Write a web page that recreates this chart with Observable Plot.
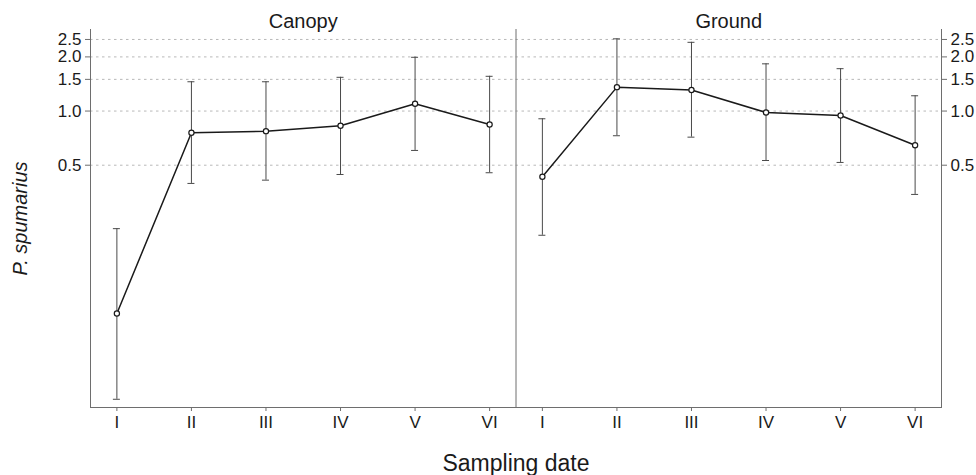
<!DOCTYPE html>
<html><head><meta charset="utf-8">
<script src="https://cdn.jsdelivr.net/npm/d3@7"></script>
<script src="https://cdn.jsdelivr.net/npm/@observablehq/plot@0.6"></script>
<style>
body{margin:0;background:#fff;}
#chart svg{font-family:"Liberation Sans",Arial,sans-serif;}
g[aria-label="y-axis label"] text{font-style:italic;font-size:20px;}
g[aria-label="fx-axis label"] text{font-size:23px;}
</style></head><body><div id="chart"></div>
<script>
const sites = ["Canopy", "Ground"];
const dates = ["I", "II", "III", "IV", "V", "VI"];
const canopyMean = [0.075, 0.757, 0.773, 0.828, 1.098, 0.842];
const canopyLow  = [0.025, 0.396, 0.413, 0.444, 0.604, 0.454];
const canopyHigh = [0.222, 1.455, 1.455, 1.54, 1.99, 1.56];
const groundMean = [0.431, 1.358, 1.31, 0.982, 0.945, 0.646];
const groundLow  = [0.204, 0.729, 0.716, 0.531, 0.518, 0.344];
const groundHigh = [0.906, 2.52, 2.41, 1.83, 1.72, 1.216];
const yTicks = [0.5, 1.0, 1.5, 2.0, 2.5];

const data = [];
sites.forEach((s, si) => {
  const m = si ? groundMean : canopyMean;
  const lo = si ? groundLow : canopyLow;
  const hi = si ? groundHigh : canopyHigh;
  dates.forEach((d, i) => data.push({site: s, date: d, mean: m[i], low: lo[i], high: hi[i]}));
});

const ink = "#1a1a1a";
const frameColor = "#6e6e6e";
const barColor = "#4a4a4a";

const plot = Plot.plot({
  width: 976, height: 475,
  marginLeft: 90, marginRight: 35, marginTop: 29, marginBottom: 68,
  style: {fontFamily: "'Liberation Sans', Arial, sans-serif", fontSize: "17px", color: ink, background: "white"},
  fx: {domain: sites, padding: 0, label: null, round: false},
  x: {type: "point", domain: dates, padding: 0.354, label: null, round: false},
  y: {type: "log", domain: [0.0225, 2.84], label: null},
  marks: [
    Plot.gridY(yTicks, {stroke: "#b8b8b8", strokeOpacity: 1, strokeDasharray: "2.5,3.5"}),
    Plot.frame({anchor: "left", stroke: frameColor}),
    Plot.frame({anchor: "bottom", stroke: frameColor}),
    Plot.frame({anchor: "right", stroke: frameColor, facetAnchor: "right"}),
    Plot.axisY({anchor: "left", ticks: yTicks, tickFormat: ".1f", tickSize: 5, tickPadding: 4, stroke: frameColor, fill: ink,
      label: "P. spumarius", labelAnchor: "center", labelOffset: 78, labelArrow: "none"}),
    Plot.axisY({anchor: "right", ticks: yTicks, tickFormat: ".1f", tickSize: 5, tickPadding: 4, stroke: frameColor, fill: ink, label: null}),
    Plot.axisX({anchor: "bottom", tickSize: 4, tickPadding: 4, stroke: frameColor, fill: ink, label: null}),
    Plot.axisFx({anchor: "top", tickSize: 0, tickPadding: 3, dy: 1, fontSize: 20, fill: ink, label: null}),
    Plot.axisFx({anchor: "bottom", ticks: [], tickSize: 0, fill: ink, label: "Sampling date", labelAnchor: "center", labelOffset: 63, labelArrow: "none"}),
    Plot.ruleX(data, {fx: "site", x: "date", y1: "low", y2: "high", stroke: barColor, strokeWidth: 1}),
    Plot.ruleY(data, {fx: "site", x1: "date", x2: "date", y: "high", stroke: barColor, insetLeft: -3.5, insetRight: -3.5}),
    Plot.ruleY(data, {fx: "site", x1: "date", x2: "date", y: "low", stroke: barColor, insetLeft: -3.5, insetRight: -3.5}),
    Plot.line(data, {fx: "site", x: "date", y: "mean", stroke: ink, strokeWidth: 1.5}),
    Plot.dot(data, {fx: "site", x: "date", y: "mean", r: 2.6, fill: "white", stroke: ink, strokeWidth: 1.2})
  ]
});
document.getElementById("chart").appendChild(plot);
</script>
</body></html>
